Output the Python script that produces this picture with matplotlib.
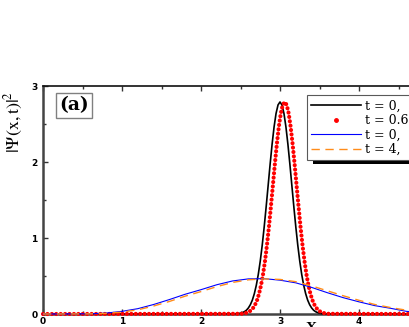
import numpy as np
import matplotlib
matplotlib.use('Agg')
from matplotlib import pyplot as plt
from matplotlib.lines import Line2D
from matplotlib.patches import Rectangle
from matplotlib.ticker import MultipleLocator

# black solid curve (t = 0, narrow packet)
black_x = [0.0, 2.45, 2.475, 2.5, 2.525, 2.55, 2.575, 2.6, 2.625, 2.65, 2.675, 2.7, 2.725,
           2.75, 2.775, 2.8, 2.825, 2.85, 2.875, 2.9, 2.925, 2.95, 2.975, 3.0, 3.025, 3.05,
           3.075, 3.1, 3.125, 3.15, 3.175, 3.2, 3.225, 3.25, 3.275, 3.3, 3.325, 3.35, 3.375,
           3.4, 3.425, 3.45, 3.475, 3.5, 3.525, 3.55, 5.0]
black_y = [0.0, 0.003, 0.006, 0.011, 0.019, 0.031, 0.05, 0.08, 0.123, 0.183, 0.267, 0.378, 0.52,
           0.696, 0.906, 1.147, 1.413, 1.692, 1.972, 2.234, 2.462, 2.639, 2.751, 2.79, 2.751, 2.639,
           2.462, 2.234, 1.972, 1.692, 1.413, 1.147, 0.906, 0.696, 0.52, 0.378, 0.267, 0.183, 0.123,
           0.08, 0.05, 0.031, 0.019, 0.011, 0.006, 0.003, 0.0]

# red dotted curve (t = 0.6)
red_x = [0.0, 2.51, 2.535, 2.56, 2.585, 2.61, 2.635, 2.66, 2.685, 2.71, 2.735, 2.76, 2.785,
         2.81, 2.835, 2.86, 2.885, 2.91, 2.935, 2.96, 2.985, 3.01, 3.035, 3.06, 3.085, 3.11,
         3.135, 3.16, 3.185, 3.21, 3.235, 3.26, 3.285, 3.31, 3.335, 3.36, 3.385, 3.41, 3.435,
         3.46, 3.485, 3.51, 3.535, 3.56, 3.585, 3.61, 5.0]
red_y = [0.0, 0.003, 0.006, 0.011, 0.019, 0.031, 0.05, 0.08, 0.123, 0.183, 0.267, 0.378, 0.52,
         0.696, 0.906, 1.147, 1.413, 1.692, 1.972, 2.234, 2.462, 2.639, 2.751, 2.79, 2.751, 2.639,
         2.462, 2.234, 1.972, 1.692, 1.413, 1.147, 0.906, 0.696, 0.52, 0.378, 0.267, 0.183, 0.123,
         0.08, 0.05, 0.031, 0.019, 0.011, 0.006, 0.003, 0.0]

# broad packets: blue solid (t = 0) and orange dashed (t = 4)
wide_x = [0.0, 0.6, 0.8, 1.0, 1.2, 1.4, 1.6, 1.8, 2.0, 2.2, 2.4, 2.6, 2.8, 3.0, 3.2, 3.4,
          3.6, 3.8, 4.0, 4.2, 4.4, 4.6, 4.8, 5.0]
blue_y = [0.0, 0.003, 0.012, 0.035, 0.07, 0.125, 0.19, 0.26, 0.32, 0.385, 0.435, 0.462, 0.465,
          0.445, 0.41, 0.35, 0.28, 0.215, 0.16, 0.11, 0.075, 0.035, 0.02, 0.01]
orange_y = [0.0, 0.002, 0.008, 0.025, 0.055, 0.105, 0.165, 0.235, 0.295, 0.36, 0.415, 0.45, 0.462,
            0.455, 0.425, 0.37, 0.305, 0.24, 0.18, 0.125, 0.085, 0.05, 0.028, 0.014]

labels = ['t = 0,', 't = 0.6', 't = 0,', 't = 4,']

plt.rcParams['mathtext.fontset'] = 'stix'
serif = ['Liberation Serif', 'DejaVu Serif']
wide_serif = ['DejaVu Serif']
sans = ['DejaVu Sans']

fig = plt.figure(figsize=(4.09, 3.27), dpi=100)
ax = fig.add_axes([43 / 409, 13 / 327, 395 / 409, 228 / 327])

ax.plot(black_x, black_y, color='black', lw=1.2, zorder=2.6, clip_on=False)
ax.plot(red_x, red_y, color='red', lw=3.0, linestyle=(0, (0.01, 1.05)),
        dash_capstyle='round', zorder=3, clip_on=False)
ax.plot(wide_x, blue_y, color='blue', lw=0.8, zorder=4, clip_on=False)
ax.plot(wide_x, orange_y, color='#ff8c1a', lw=1.0, linestyle=(0, (6, 4)), zorder=5,
        clip_on=False)

ax.set_xlim(0, 5)
ax.set_ylim(0, 3)
ax.xaxis.set_major_locator(MultipleLocator(1))
ax.xaxis.set_minor_locator(MultipleLocator(0.5))
ax.yaxis.set_major_locator(MultipleLocator(1))
ax.yaxis.set_minor_locator(MultipleLocator(0.5))
ax.tick_params(which='both', direction='in', top=True, right=False, width=1, color='#333333')
ax.tick_params(which='major', length=3.5)
ax.tick_params(which='minor', length=2.5)
ax.tick_params(axis='x', pad=2.5)
ax.tick_params(axis='y', pad=4)
for lab in ax.get_xticklabels() + ax.get_yticklabels():
    lab.set_family(sans)
    lab.set_fontweight('bold')
    lab.set_fontsize(6.5)
for s in ['left', 'bottom']:
    ax.spines[s].set_linewidth(1.8)
    ax.spines[s].set_color('#444444')
ax.spines['top'].set_linewidth(1.2)
ax.spines['top'].set_color('#111111')

ax.set_ylabel(r'$\mathrm{|\Psi(x,t)|^2}$', fontsize=13)
ax.yaxis.set_label_coords(-0.046, 0.843)
ax.set_xlabel('X', fontsize=11, fontweight='bold', family=serif)
ax.xaxis.set_label_coords(0.68, -0.035)

ax.text(0.078, 0.915, '(a)', transform=ax.transAxes, ha='center', va='center',
        fontsize=13.5, fontweight='bold', family=wide_serif,
        bbox=dict(boxstyle='square,pad=0.18', fc='white', ec='0.5', lw=1))

handles = [Line2D([], [], color='black', lw=1.2),
           Line2D([], [], color='red', marker='o', ms=2.5, linestyle='none'),
           Line2D([], [], color='blue', lw=0.8),
           Line2D([], [], color='#ff8c1a', lw=1.0, linestyle=(0, (6, 4)))]
leg = fig.legend(handles, labels, loc='upper left', bbox_to_anchor=(307 / 409, 1 - 95 / 327),
                 prop={'family': wide_serif, 'size': 9}, frameon=True, fancybox=False,
                 framealpha=1, handlelength=4.0, handletextpad=0.3, labelspacing=0.12,
                 borderpad=0.35, borderaxespad=0)
leg.get_frame().set_edgecolor('0.35')
leg.get_frame().set_linewidth(0.8)
leg.set_zorder(6)

# black drop shadow under the legend box
fig.canvas.draw()
bb = leg.get_window_extent()
fig.patches.append(Rectangle((bb.x0 + 6, bb.y0 - 4), bb.width, bb.height, transform=None,
                             facecolor='black', edgecolor='none', zorder=5))

plt.savefig('out.png', dpi=100)
